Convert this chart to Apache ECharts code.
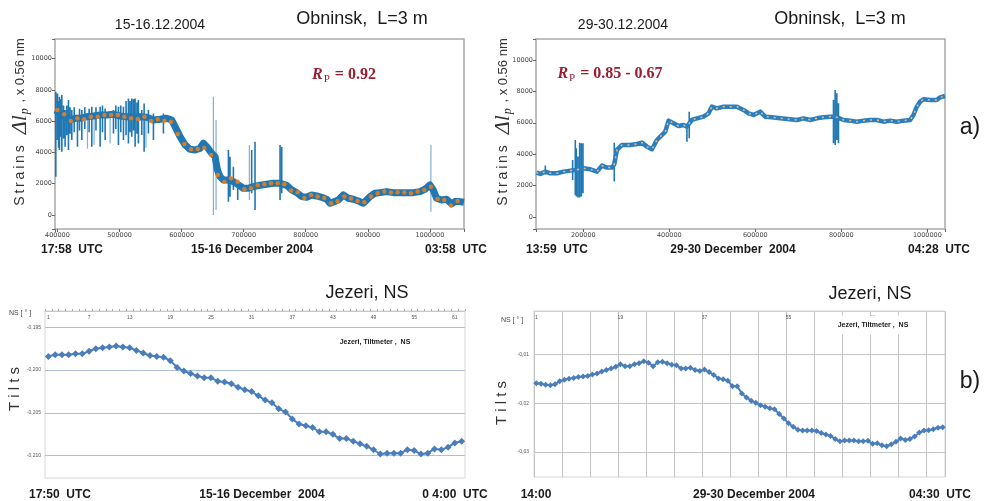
<!DOCTYPE html>
<html><head><meta charset="utf-8">
<script src="https://cdn.jsdelivr.net/npm/echarts@6/dist/echarts.min.js"></script>
<style>html,body{margin:0;padding:0;background:#fff}#c{width:990px;height:501px}</style>
</head><body><div id="c"></div>
<script>
// ---------- DATA ----------
// Obninsk 15-16.12.2004 : strain record (time counter, strain units)
const obnDec15Base = [[396200,6716],[401600,6609],[407000,6396],[412300,6290],[420400,6076],[428400,6183],[436500,6183],[447200,6290],[458000,6332],[468700,6396],[479400,6396],[490200,6439],[500900,6332],[511600,6290],[522400,6247],[533100,6290],[543900,6247],[554600,6076],[565300,6119],[576100,6183],[584100,6076],[589500,5650],[597500,5010],[605600,4477],[613600,4200],[621700,4157],[629700,4264],[635100,4584],[640500,4371],[648500,3944],[653900,3731],[657700,2878],[661900,2452],[667300,2239],[675400,2239],[683400,2132],[691500,1919],[699500,1706],[707600,1706],[715600,1812],[726400,1897],[737100,1961],[747800,2025],[758600,2025],[769300,1897],[777300,1599],[785400,1428],[793500,1173],[801500,1130],[809600,1279],[817600,1215],[825700,1130],[833700,1002],[839100,746],[844400,831],[852500,959],[860500,1279],[868600,1066],[876600,1002],[884700,895],[892700,746],[898100,959],[903500,1173],[911500,1386],[919600,1428],[930300,1492],[941100,1428],[951800,1428],[962500,1428],[973300,1428],[984000,1492],[992100,1642],[1000100,1919],[1005500,1599],[1010800,1066],[1018900,959],[1026900,1002],[1035000,704],[1040400,853],[1048400,853],[1054900,810]];
// spikes: [time, low, high]
const obnDec15Spikes = [[397300,2450,7890],[400000,4800,7780],[401800,4300,7300],[403200,4160,7570],[405200,5000,7400],[407000,4050,7680],[409800,4900,7000],[412300,4370,6720],[415000,5100,7000],[417700,4160,7360],[420300,5200,6900],[423100,4800,6720],[427000,5300,6900],[432200,4370,6290],[435500,5400,6800],[439200,4800,6720],[444000,5500,6900],[451000,5300,6800],[455300,4370,6930],[462000,5400,6900],[468700,4370,6930],[472500,5300,7000],[476800,4800,6820],[490200,5220,6720],[494000,5500,7000],[498200,4480,6930],[502000,5300,7000],[506300,4800,6930],[510500,5100,7300],[514300,4580,7460],[517000,5300,7300],[519700,5010,7460],[522500,5400,7400],[525100,4370,7460],[528000,5200,7200],[530400,4580,7360],[535800,5120,6720],[539600,4050,7140],[546500,5220,6720],[554600,4800,6500],[570700,5220,6500],[675400,850,4160],[678000,1170,3730],[683400,1600,3090],[690400,960,2240],[712900,1390,4160],[718300,320,4690],[758600,960,4480],[761300,1390,4370]];
const obnDec15SpikesLight = [[448300,4260,6290],[459000,4500,6300],[484800,4580,6290],[542500,4300,6300],[651200,0,7570],[655500,320,6080],[709200,960,4480],[1001700,210,4480]];
const obnDec15Dots = [[400000,6716],[410700,6439],[421500,6013],[432200,6183],[442900,6119],[453700,6290],[464900,6290],[475700,6396],[486400,6396],[497200,6396],[507900,6290],[518600,6183],[529400,6140],[540100,6290],[550800,6013],[561600,6119],[572300,6034],[583000,5970],[593800,5181],[604500,4541],[615200,4200],[626000,4222],[636700,4286],[647400,3838],[658200,2559],[668900,2132],[679600,2345],[690400,2132],[701100,1642],[711900,1706],[722600,1898],[733300,1962],[744100,2026],[754800,2026],[765500,1962],[776300,1557],[787000,1450],[797700,1087],[808500,1279],[819200,1173],[829900,1087],[840700,746],[851400,874],[862200,1173],[872900,1045],[883600,896],[894400,810],[905100,1173],[915900,1386],[926600,1493],[937300,1429],[948100,1450],[958800,1429],[969500,1386],[980300,1493],[991000,1599],[1001700,1812],[1012500,1023],[1023200,959],[1033900,597],[1044700,896]];

// Obninsk 29-30.12.2004
const obnDec29Base = [[90800,2824],[100100,2739],[111700,2887],[123300,2781],[138800,2781],[154300,2887],[169800,2951],[181400,2990],[200800,3100],[216300,3036],[231800,2887],[243400,3270],[255000,3142],[266600,3142],[272000,3355],[278200,4268],[289900,4586],[309200,4586],[324700,4650],[336300,4735],[348000,4480],[359600,4310],[371200,4904],[382800,5223],[390600,5435],[398300,6136],[409900,5966],[421500,5796],[433200,5860],[440900,5754],[452500,6178],[464100,6285],[479600,6391],[491300,6603],[499000,7028],[510600,6921],[526100,7028],[541600,7028],[557100,7028],[572600,6815],[584200,6603],[595800,6497],[611300,6709],[622900,6391],[638400,6348],[657800,6285],[681000,6221],[696500,6178],[712000,6285],[727500,6178],[743000,6285],[758500,6348],[774000,6391],[785600,6391],[805000,6178],[820500,6136],[836000,6072],[851400,6136],[866900,6178],[882400,6178],[897900,6072],[913400,6136],[928900,6072],[944400,6136],[959900,6178],[967600,6497],[975400,7028],[983100,7346],[990900,7495],[1006400,7452],[1021800,7452],[1029600,7622],[1041000,7707]];
const obnDec29Spikes = [[111700,2700,3270],[175200,2357,3630],[181400,1400,4900],[183700,1295,4373],[187600,1231,3843],[191500,1231,4734],[195400,1295,4692],[199200,1507,4692],[272000,2250,4734],[440900,4798,5860],[446300,5010,6709],[781700,4692,7452],[785600,4586,8089],[789500,4904,7877],[793300,4692,7240]];

// Jezeri tiltmeter NS
const tiltDec15 = [-0.1984,-0.1982,-0.1982,-0.1982,-0.1981,-0.1981,-0.1978,-0.1975,-0.1974,-0.1973,-0.1972,-0.1973,-0.1974,-0.1977,-0.1980,-0.1983,-0.1984,-0.1985,-0.1989,-0.1997,-0.2001,-0.2004,-0.2007,-0.2009,-0.2009,-0.2013,-0.2014,-0.2016,-0.2020,-0.2023,-0.2025,-0.2030,-0.2035,-0.2038,-0.2045,-0.2049,-0.2057,-0.2063,-0.2065,-0.2067,-0.2072,-0.2072,-0.2075,-0.2080,-0.2080,-0.2083,-0.2086,-0.2089,-0.2093,-0.2098,-0.2097,-0.2097,-0.2097,-0.2093,-0.2094,-0.2098,-0.2097,-0.2092,-0.2093,-0.2090,-0.2085,-0.2083];
const tiltDec29 = [-0.0159,-0.0160,-0.0162,-0.0163,-0.0161,-0.0155,-0.0152,-0.0150,-0.0148,-0.0146,-0.0145,-0.0144,-0.0141,-0.0139,-0.0135,-0.0132,-0.0129,-0.0125,-0.0120,-0.0124,-0.0124,-0.0120,-0.0118,-0.0114,-0.0117,-0.0124,-0.0116,-0.0115,-0.0118,-0.0121,-0.0122,-0.0129,-0.0129,-0.0127,-0.0132,-0.0134,-0.0131,-0.0136,-0.0142,-0.0149,-0.0151,-0.0154,-0.0165,-0.0165,-0.0180,-0.0188,-0.0195,-0.0199,-0.0204,-0.0207,-0.0210,-0.0212,-0.0222,-0.0231,-0.0241,-0.0248,-0.0254,-0.0256,-0.0256,-0.0256,-0.0257,-0.0261,-0.0264,-0.0267,-0.0273,-0.0278,-0.0276,-0.0276,-0.0276,-0.0278,-0.0278,-0.0277,-0.0283,-0.0282,-0.0286,-0.0288,-0.0284,-0.0279,-0.0272,-0.0275,-0.0273,-0.0268,-0.0260,-0.0256,-0.0255,-0.0253,-0.0250,-0.0249];
const tiltDec15Cats = tiltDec15.map((v, i) => String(i + 1));
const tiltDec29Cats = tiltDec29.map((v, i) => String(i + 1));

// tick labels
const strainTicks = [0, 2000, 4000, 6000, 8000, 10000];
const timeTicksDec15 = [400000, 500000, 600000, 700000, 800000, 900000, 1000000];
const timeTicksDec29 = [200000, 400000, 600000, 800000, 1000000];
const tiltTicksDec15 = ['-0,195', '-0,200', '-0,205', '-0,210'];
const tiltTicksDec29 = ['-0,01', '-0,02', '-0,03'];

// ---------- CHART ----------
const chart = echarts.init(document.getElementById('c'), null, {renderer: 'canvas'});
function spikeData(arr) {
  const out = [];
  arr.forEach(s => { out.push([s[0], s[1]]); out.push([s[0], s[2]]); out.push([s[0], '-']); });
  return out;
}
const tickFont = {fontFamily: 'DejaVu Sans', fontSize: 6.5, color: '#444'};
function strainX(gi, min, max, split, ticks) {
  return {type: 'value', gridIndex: gi, min, max, splitNumber: split,
    axisLine: {show: false, onZero: false}, axisTick: {show: true, length: 3, lineStyle: {color: '#666'}},
    axisLabel: Object.assign({margin: 3, formatter: v => ticks.includes(v) ? String(v) : ''}, tickFont),
    splitLine: {show: false}};
}
function strainY(gi, min, max) {
  return {type: 'value', gridIndex: gi, min, max, splitNumber: 6,
    axisLine: {show: false, onZero: false}, axisTick: {show: true, length: 3, lineStyle: {color: '#666'}},
    axisLabel: Object.assign({margin: 3, formatter: v => strainTicks.includes(v) ? String(v) : ''}, tickFont),
    splitLine: {show: false}};
}
const txt = (x, y, text, size, opts) => Object.assign({type: 'text', x, y, z: 100,
  style: Object.assign({text, fontSize: size, fontFamily: 'Liberation Sans, Arial', fill: '#1a1a1a', align: 'center', verticalAlign: 'middle'}, opts || {})});
const rp = (x, y, val) => ({type: 'text', x, y, z: 100, style: {
  text: '{r|R}{s|P}{t| = ' + val + '}', align: 'center', verticalAlign: 'middle',
  rich: {
    r: {fontFamily: 'Liberation Serif', fontStyle: 'italic', fontWeight: 'bold', fontSize: 16, fill: '#9b1b30', lineHeight: 20},
    s: {fontFamily: 'Liberation Serif', fontSize: 11, fill: '#9b1b30', lineHeight: 12, padding: [8, 1, 0, 1]},
    t: {fontFamily: 'Liberation Serif', fontWeight: 'bold', fontSize: 16, fill: '#9b1b30', lineHeight: 20}
  }}});
const yTitle = (x, y) => ({type: 'text', x, y, rotation: Math.PI / 2, z: 100, style: {
  text: '{a|S\u2009t\u2009r\u2009a\u2009i\u2009n\u2009s}{g|    }{b|\u0394l}{s|p}{d| , x 0.56 nm}', align: 'center', verticalAlign: 'middle',
  rich: {
    a: {fontFamily: 'Liberation Sans', fontSize: 14, fill: '#333', lineHeight: 24},
    g: {fontSize: 10, lineHeight: 24},
    b: {fontFamily: 'Liberation Serif', fontStyle: 'italic', fontSize: 22, fill: '#333', lineHeight: 24},
    s: {fontFamily: 'Liberation Serif', fontStyle: 'italic', fontSize: 12, fill: '#333', lineHeight: 14, padding: [10, 2, 0, 1]},
    d: {fontFamily: 'Liberation Sans', fontSize: 13, fill: '#333', lineHeight: 24}
  }}});
const tiltTitle = (x, y) => ({type: 'text', x, y, rotation: Math.PI / 2, z: 100, style: {
  text: 'T i l t s', fontFamily: 'Liberation Sans', fontSize: 15, fill: '#333', align: 'center', verticalAlign: 'middle'}});

const option = {
  animation: false,
  backgroundColor: '#fff',
  grid: [
    {left: 55, top: 39, width: 409, height: 190, show: true, borderColor: '#a9a9a9', borderWidth: 1.5},
    {left: 536, top: 39, width: 409, height: 190, show: true, borderColor: '#a9a9a9', borderWidth: 1.5},
    {left: 45, top: 311, width: 420, height: 167, show: true, borderColor: '#d6d6d6', borderWidth: 1},
    {left: 534, top: 311, width: 411, height: 166, show: true, borderColor: '#d6d6d6', borderWidth: 1}
  ],
  xAxis: [
    strainX(0, 396000, 1055000, 6, timeTicksDec15),
    strainX(1, 90000, 1041000, 5, timeTicksDec29),
    {type: 'category', gridIndex: 2, position: 'top', data: tiltDec15Cats, boundaryGap: true,
      axisLine: {show: true, lineStyle: {color: '#c8c8c8'}},
      axisTick: {show: true, interval: 0, length: 2, lineStyle: {color: '#aaa'}},
      axisLabel: {inside: true, interval: 5, fontSize: 5, color: '#555', margin: 4, fontFamily: 'Liberation Sans'},
      splitLine: {show: false}},
    {type: 'category', gridIndex: 3, position: 'top', data: tiltDec29Cats, boundaryGap: true,
      axisLine: {show: true, lineStyle: {color: '#d0d0d0'}},
      axisTick: {show: false},
      axisLabel: {inside: true, interval: 17, fontSize: 5, color: '#555', margin: 4, fontFamily: 'Liberation Sans'},
      splitLine: {show: true, interval: 5, lineStyle: {color: '#c4c4c4', width: 1}}}
  ],
  yAxis: [
    strainY(0, -900, 11260),
    strainY(1, -770, 11340),
    {type: 'value', gridIndex: 2, min: -0.2126, max: -0.1931, splitNumber: 4,
      axisLine: {show: false}, axisTick: {show: false},
      axisLabel: {fontSize: 5, color: '#555', margin: 4, fontFamily: 'Liberation Sans',
        formatter: v => { const s = v.toFixed(3).replace('.', ','); return tiltTicksDec15.includes(s) ? s : ''; }},
      splitLine: {show: true, showMinLine: false, showMaxLine: false, lineStyle: {color: '#a9c0d9', width: 1}}},
    {type: 'value', gridIndex: 3, min: -0.0351, max: -0.0011, splitNumber: 3,
      axisLine: {show: false}, axisTick: {show: false},
      axisLabel: {fontSize: 5, color: '#555', margin: 5, fontFamily: 'Liberation Sans',
        formatter: v => { const s = v.toFixed(2).replace('.', ','); return tiltTicksDec29.includes(s) ? s : ''; }},
      splitLine: {show: true, showMinLine: false, showMaxLine: false, lineStyle: {color: '#c4c4c4', width: 1}}}
  ],
  series: [
    {type: 'line', xAxisIndex: 0, yAxisIndex: 0, data: spikeData(obnDec15SpikesLight), symbol: 'none', connectNulls: false,
      lineStyle: {color: '#7fb0d8', width: 1.2}, z: 2},
    {type: 'line', xAxisIndex: 0, yAxisIndex: 0, data: spikeData(obnDec15Spikes), symbol: 'none', connectNulls: false,
      lineStyle: {color: '#1f77b4', width: 1.6}, z: 2},
    {type: 'line', xAxisIndex: 0, yAxisIndex: 0, data: obnDec15Base, symbol: 'none',
      lineStyle: {color: '#1f77b4', width: 7, join: 'round'}, z: 3},
    {type: 'scatter', xAxisIndex: 0, yAxisIndex: 0, data: obnDec15Dots, symbol: 'circle', symbolSize: 4.5,
      itemStyle: {color: '#ff7f0e'}, z: 4},
    {type: 'line', xAxisIndex: 1, yAxisIndex: 1, data: spikeData(obnDec29Spikes), symbol: 'none', connectNulls: false,
      lineStyle: {color: '#1f77b4', width: 1.6}, z: 2},
    {type: 'line', xAxisIndex: 1, yAxisIndex: 1, data: obnDec29Base, symbol: 'none',
      lineStyle: {color: '#2a7fbf', width: 4.5, join: 'round'}, z: 3},
    {type: 'line', xAxisIndex: 1, yAxisIndex: 1, data: obnDec29Base, symbol: 'none',
      lineStyle: {color: '#f7b77a', width: 1.5, type: [2, 5]}, z: 4},
    {type: 'line', xAxisIndex: 2, yAxisIndex: 2, data: tiltDec15, symbol: 'diamond', symbolSize: 7, showAllSymbol: true,
      itemStyle: {color: '#4a7ebb'}, lineStyle: {color: '#4a7ebb', width: 2}, z: 3},
    {type: 'line', xAxisIndex: 3, yAxisIndex: 3, data: tiltDec29, symbol: 'diamond', symbolSize: 6, showAllSymbol: true,
      itemStyle: {color: '#4a7ebb'}, lineStyle: {color: '#4a7ebb', width: 2}, z: 3}
  ],
  graphic: [
    txt(160, 25, '15-16.12.2004', 14),
    txt(362, 19, 'Obninsk,  L=3 m', 18),
    txt(623, 25, '29-30.12.2004', 14),
    txt(840, 19, 'Obninsk,  L=3 m', 18),
    rp(344, 75, '0.92'),
    rp(610, 74, '0.85 - 0.67'),
    yTitle(20, 122),
    yTitle(503, 122),
    txt(72, 250, '17:58  UTC', 12, {fontWeight: 'bold'}),
    txt(252, 250, '15-16 December 2004', 12, {fontWeight: 'bold'}),
    txt(456, 250, '03:58  UTC', 12, {fontWeight: 'bold'}),
    txt(557, 250, '13:59  UTC', 12, {fontWeight: 'bold'}),
    txt(733, 250, '29-30 December  2004', 12, {fontWeight: 'bold'}),
    txt(939, 250, '04:28  UTC', 12, {fontWeight: 'bold'}),
    txt(970, 128, 'a)', 23),
    txt(367, 293, 'Jezeri, NS', 18),
    txt(870, 294, 'Jezeri, NS', 18),
    txt(970, 382, 'b)', 23),
    tiltTitle(15, 389),
    tiltTitle(502, 403),
    txt(60, 495, '17:50  UTC', 12, {fontWeight: 'bold'}),
    txt(262, 495, '15-16 December  2004', 12, {fontWeight: 'bold'}),
    txt(455, 495, '0 4:00  UTC', 12, {fontWeight: 'bold'}),
    txt(536, 495, '14:00', 12, {fontWeight: 'bold'}),
    txt(754, 495, '29-30 December 2004', 12, {fontWeight: 'bold'}),
    txt(940, 495, '04:30  UTC', 12, {fontWeight: 'bold'}),
    txt(375, 342, 'Jezeri, Tiltmeter ,  NS', 7, {fontWeight: 'bold'}),
    txt(873, 325, 'Jezeri, Tiltmeter ,  NS', 7, {fontWeight: 'bold', backgroundColor: '#fff', padding: [6, 4, 6, 4]}),
    txt(20, 313, 'NS [ \u00b0 ]', 7, {fill: '#444'}),
    txt(512, 320, 'NS [ \u00b0 ]', 7, {fill: '#444'})
  ]
};
chart.setOption(option);
</script></body></html>
